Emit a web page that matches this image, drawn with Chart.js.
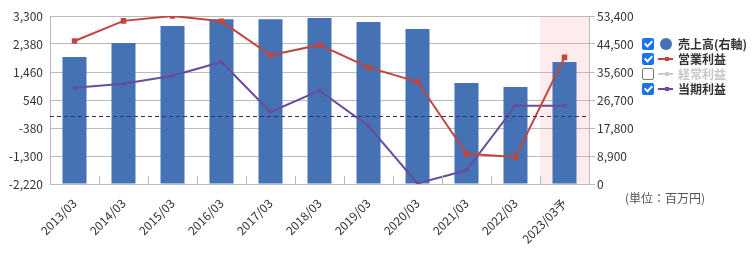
<!DOCTYPE html>
<html>
<head>
<meta charset="utf-8">
<script src="https://cdn.jsdelivr.net/npm/chart.js@4"></script>
<style>
  html, body { margin: 0; padding: 0; background: #fff; }
  body { width: 752px; height: 255px; position: relative; overflow: hidden;
         font-family: "Noto Sans CJK JP", "Noto Sans", sans-serif; }
  #c { position: absolute; left: 0; top: 0; }
  .legend { position: absolute; left: 642px; top: 36px; }
  .row { height: 15px; display: flex; align-items: center; font-size: 12px; font-weight: bold; color: #333; white-space: nowrap; }
  .cb { width: 12px; height: 12px; box-sizing: border-box; border-radius: 2px; background: #1a73e8; position: relative; margin-right: 2px; flex: none; }
  .cb.on::after { content: ""; position: absolute; left: 3.5px; top: 1px; width: 3px; height: 6px;
                  border: solid #fff; border-width: 0 2px 2px 0; transform: rotate(45deg); }
  .cb.off { background: #fff; border: 1px solid #777; }
  .sym { width: 20px; height: 12px; position: relative; flex: none; margin-right: 2px; }
  .sym .ln { position: absolute; left: 2px; right: 3px; top: 5px; height: 2px; }
  .sym .mk { position: absolute; left: 9px; top: 4px; width: 4px; height: 4px; }
  .sym .dot { position: absolute; left: 4px; top: 0px; width: 12px; height: 12px; border-radius: 50%; background: #4472b4; }
  .unit { position: absolute; left: 625px; top: 189px; font-size: 12px; color: #555; }
</style>
</head>
<body>
<canvas id="c" width="752" height="255"></canvas>
<div class="legend">
  <div class="row"><span class="cb on"></span><span class="sym"><span class="dot"></span></span><span>売上高(右軸)</span></div>
  <div class="row"><span class="cb on"></span><span class="sym"><span class="ln" style="background:#c0463f"></span><span class="mk" style="background:#c0463f"></span></span><span>営業利益</span></div>
  <div class="row"><span class="cb off"></span><span class="sym"><span class="ln" style="background:#ccc"></span><span class="mk" style="background:#ccc"></span></span><span style="color:#c8c8c8">経常利益</span></div>
  <div class="row"><span class="cb on"></span><span class="sym"><span class="ln" style="background:#6a4c9c"></span><span class="mk" style="background:#6a4c9c"></span></span><span>当期利益</span></div>
</div>
<div class="unit">(単位：百万円)</div>
<script>
const categories = ['2013/03', '2014/03', '2015/03', '2016/03', '2017/03', '2018/03', '2019/03', '2020/03', '2021/03', '2022/03', '2023/03予'];
const sales = [40400, 44800, 50200, 52400, 52400, 52800, 51500, 49300, 32100, 30800, 38800];
const operatingProfit = [2480, 3140, 3300, 3125, 2010, 2350, 1610, 1140, -1230, -1330, 1940];
const netProfit = [945, 1075, 1340, 1790, 145, 850, -315, -2200, -1770, 355, 355];
const leftAxis = { min: -2220, max: 3300, step: 920 };
const rightAxis = { min: 0, max: 53400, step: 8900 };
const zeroLine = 0;
const forecastIndex = 10;

const FONT = '"Noto Sans CJK JP", "Noto Sans", sans-serif';
const fmt = v => Number(v).toLocaleString('en-US');

const decor = {
  id: 'decor',
  beforeDraw(chart) {
    const { ctx, chartArea, scales } = chart;
    const x = scales.x;
    const w = (x.getPixelForValue(1) - x.getPixelForValue(0));
    const cx = x.getPixelForValue(forecastIndex);
    ctx.save();
    ctx.fillStyle = '#fdeceb';
    ctx.fillRect(cx - w / 2, chartArea.top, Math.min(w, chartArea.right - (cx - w / 2)), chartArea.bottom - chartArea.top);
    ctx.restore();
  },
  afterDatasetsDraw(chart) {
    const { ctx, chartArea, scales } = chart;
    const x = scales.x;
    const w = (x.getPixelForValue(1) - x.getPixelForValue(0));
    ctx.save();
    ctx.strokeStyle = '#bbb';
    ctx.lineWidth = 1;
    for (let i = 1; i < categories.length; i++) {
      const px = Math.round(x.getPixelForValue(i) - w / 2) + 0.5;
      ctx.beginPath();
      ctx.moveTo(px, chartArea.bottom - 8);
      ctx.lineTo(px, chartArea.bottom);
      ctx.stroke();
    }
    const y0 = Math.round(scales.y.getPixelForValue(zeroLine)) + 0.5;
    ctx.strokeStyle = '#3c2a6e';
    ctx.setLineDash([4, 3]);
    ctx.beginPath();
    ctx.moveTo(chartArea.left, y0);
    ctx.lineTo(chartArea.right, y0);
    ctx.stroke();
    ctx.restore();
  }
};

new Chart(document.getElementById('c'), {
  data: {
    labels: categories,
    datasets: [
      { type: 'line', label: '営業利益', data: operatingProfit, yAxisID: 'y', borderColor: '#c0463f', backgroundColor: '#c0463f',
        borderWidth: 2, pointStyle: 'rect', pointRadius: 2.5, tension: 0, order: 1 },
      { type: 'line', label: '当期利益', data: netProfit, yAxisID: 'y', borderColor: '#6a4c9c', backgroundColor: '#6a4c9c',
        borderWidth: 2, pointStyle: 'rect', pointRadius: 1.2, tension: 0, order: 2 },
      { type: 'bar', label: '売上高(右軸)', data: sales, yAxisID: 'y1', backgroundColor: '#4472b4',
        categoryPercentage: 1, barPercentage: 0.49, order: 3 }
    ]
  },
  options: {
    responsive: false,
    animation: false,
    devicePixelRatio: 1,
    layout: { padding: { top: 16, right: 113, left: 0, bottom: 0 } },
    plugins: { legend: { display: false }, tooltip: { enabled: false } },
    scales: {
      x: {
        offset: true,
        grid: { display: false },
        border: { display: false },
        ticks: { maxRotation: 45, minRotation: 45, color: '#333', font: { family: FONT, size: 12 }, padding: 4 },
        afterFit(s) { s.height = 71; }
      },
      y: {
        position: 'left', min: leftAxis.min, max: leftAxis.max,
        grid: { color: '#bbb', drawTicks: false },
        border: { color: '#bbb' },
        ticks: { stepSize: leftAxis.step, callback: fmt, color: '#333', font: { family: FONT, size: 12 }, padding: 7 },
        afterFit(s) { s.width = 50; }
      },
      y1: {
        position: 'right', min: rightAxis.min, max: rightAxis.max,
        grid: { drawOnChartArea: false, color: '#bbb', tickLength: 6 },
        border: { color: '#bbb' },
        ticks: { stepSize: rightAxis.step, callback: fmt, color: '#333', font: { family: FONT, size: 12 }, padding: 2 },
        afterFit(s) { s.width = 50; }
      }
    }
  },
  plugins: [decor]
});
</script>
</body>
</html>
